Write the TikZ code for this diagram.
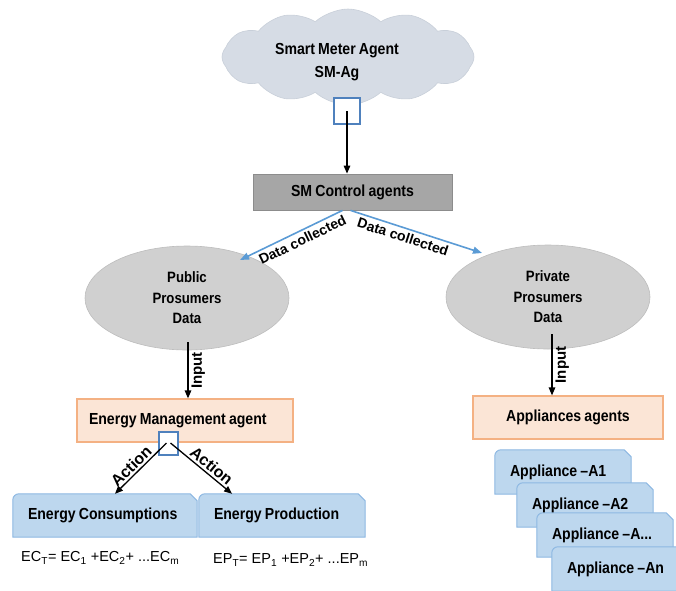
\documentclass[tikz,border=0pt]{standalone}
\usepackage{fontspec}
\setmainfont{Liberation Sans}[FakeStretch=0.88,WordSpace=0.8]
\newfontfamily\plainsans{Liberation Sans}
\usetikzlibrary{shapes.symbols,shapes.geometric,arrows.meta,calc,backgrounds}
\definecolor{cloudc}{HTML}{D6DCE5}
\definecolor{cloudb}{HTML}{C8CFD9}
\definecolor{sqblue}{HTML}{4F81BD}
\definecolor{smgray}{HTML}{A6A6A6}
\definecolor{smgrayb}{HTML}{8C8C8C}
\definecolor{arrblue}{HTML}{5B9BD5}
\definecolor{ellgray}{HTML}{D0D0D0}
\definecolor{ellgrayb}{HTML}{BDBDBD}
\definecolor{peach}{HTML}{FBE5D6}
\definecolor{peachb}{HTML}{F4B183}
\definecolor{tabfill}{HTML}{BDD7EE}
\definecolor{tabdraw}{HTML}{8DB8E2}
\newcommand\tabshape[1]{\draw[tabsty] (#1.south west) -- ([yshift=-6pt]#1.north west) arc[start angle=180,end angle=90,radius=6pt] -- ([xshift=-7pt]#1.north east) -- ([yshift=-7pt]#1.north east) -- (#1.south east) -- cycle;}
\begin{document}
\begin{tikzpicture}[x=1pt,y=-1pt,
  lbl/.style={font=\fontsize{16}{19}\selectfont\bfseries},
  rotlbl/.style={font=\plainsans\fontsize{14}{17}\selectfont\bfseries},
  actlbl/.style={font=\plainsans\fontsize{16}{18}\selectfont\bfseries},
  elltext/.style={font=\fontsize{15}{20.5}\selectfont\bfseries},
  formula/.style={font=\plainsans\fontsize{14.5}{17}\selectfont, inner sep=0pt},
  inputlbl/.style={font=\plainsans\fontsize{15}{18}\selectfont\bfseries, inner sep=3pt},
  sqbox/.style={draw=sqblue, line width=2.8pt, fill=white, inner sep=0pt},
  smbox/.style={lbl, draw=smgrayb, fill=smgray, line width=0.8pt, minimum width=199pt, minimum height=36pt},
  ell/.style={ellipse, elltext, align=center, fill=ellgray, draw=ellgrayb, line width=0.6pt, minimum width=204pt, minimum height=104pt},
  peachbox/.style={lbl, draw=peachb, fill=peach, line width=1.2pt, minimum height=43pt},
  tabnode/.style={lbl, align=flush left, inner xsep=15pt, inner ysep=0pt},
  tabsty/.style={draw=tabdraw, fill=tabfill, line width=1pt},
  blk/.style={draw=black, line width=1.3pt, -{Triangle[length=8pt,width=6.5pt]}},
  blu/.style={draw=arrblue, line width=1.6pt, -{Triangle[length=9pt,width=7pt]}}]
\path[use as bounding box] (0,0) rectangle (676,590);
\clip (0,0) rectangle (676,590);

% cloud
\node[cloud, cloud puffs=12, cloud puff arc=85, aspect=2.6, minimum width=252pt, minimum height=96pt, fill=cloudc, draw=cloudb, line width=0.6pt] (cloud) at (348,57) {};
\node[font=\fontsize{16}{23.5}\selectfont\bfseries, align=center] (cloudtxt) at (337,62) {Smart Meter Agent\\SM-Ag};
\node[sqbox, minimum width=26pt, minimum height=26pt] (smsq) at (347,111) {};

% SM control
\node[smbox] (sm) at (352.5,192) {SM Control agents};
\draw[blk] (smsq.center) -- (smsq.center |- sm.north);

% ellipses
\node[ell] (pub) at (187,298) {Public\\Prosumers\\Data};
\node[ell] (priv) at (548,297) {Private\\Prosumers\\Data};

\draw[blu] ([xshift=-10pt]sm.south) -- ($(pub.center)+(53,-38)$)
  node[pos=0.43, sloped, below, rotlbl, inner sep=3pt] {Data collected};
\draw[blu] ([xshift=-2pt]sm.south) -- ($(priv.center)+(-66,-44)$)
  node[pos=0.42, sloped, below, rotlbl, inner sep=3pt] {Data collected};

% agents
\node[peachbox, text width=192pt, inner xsep=12pt, align=flush left] (ema) at (185,420.5) {Energy Management agent};
\node[peachbox, minimum width=190pt] (app) at (568,417.5) {Appliances agents};

\draw[blk] ([xshift=1pt,yshift=8pt]pub.south) -- ([xshift=1pt]pub.south |- ema.north)
  node[midway, rotate=90, anchor=north, inputlbl] {Input};
\draw[blk] ([xshift=4pt,yshift=15pt]priv.south) -- ([xshift=4pt]priv.south |- app.north)
  node[midway, rotate=90, anchor=north, inputlbl] {Input};

\node[sqbox, line width=2pt, minimum width=19pt, minimum height=23pt] (emsq) at (168.5,443) {};

% energy boxes
\node[tabnode, text width=154pt, minimum height=43pt] (ec) at (105,515.5) {Energy Consumptions};
\node[tabnode, text width=136pt, minimum height=43pt] (ep) at (282,515.5) {Energy Production};

\draw[blk] ([xshift=-2pt]emsq.center) -- ($(ec.north west)!0.554!(ec.north east)$)
  node[pos=0.57, sloped, above, actlbl, inner sep=2pt] {Action};
\draw[blk] ([xshift=2pt]emsq.center) -- ($(ep.north west)!0.2!(ep.north east)$)
  node[pos=0.58, sloped, above, actlbl, inner sep=2pt] {Action};

\node[formula, anchor=west] (ecf) at (21,558) {EC\textsubscript{T}= EC\textsubscript{1} +EC\textsubscript{2}+ ...EC\textsubscript{m}};
\node[formula, anchor=west] (epf) at (213,560) {EP\textsubscript{T}= EP\textsubscript{1} +EP\textsubscript{2}+ ...EP\textsubscript{m}};

% appliances
\node[tabnode, text width=106pt, minimum height=44pt] (a1) at (563,472) {Appliance –A1};
\node[tabnode, text width=106pt, minimum height=44pt] (a2) at (585,505) {Appliance –A2};
\node[tabnode, text width=106pt, minimum height=44pt] (a3) at (605,535) {Appliance –A...};
\node[tabnode, text width=106pt, minimum height=44pt] (a4) at (620,569) {Appliance –An};

\begin{scope}[on background layer]
\tabshape{ec}
\tabshape{ep}
\tabshape{a1}
\tabshape{a2}
\tabshape{a3}
\tabshape{a4}
\end{scope}
\end{tikzpicture}
\end{document}
